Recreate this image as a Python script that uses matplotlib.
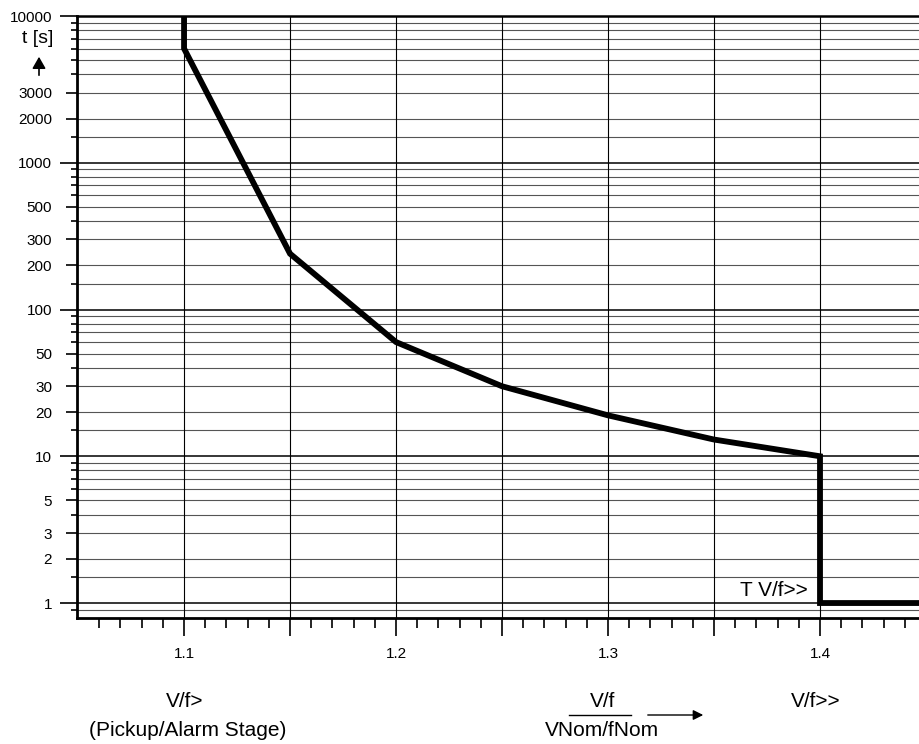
import matplotlib
matplotlib.use("Agg")
import matplotlib.pyplot as plt
from matplotlib.patches import FancyArrowPatch
from matplotlib.lines import Line2D

plt.rcParams['font.family'] = ['Liberation Sans', 'DejaVu Sans']

# ---- data ----
vf_ratio = [1.10, 1.10, 1.15, 1.20, 1.25, 1.30, 1.35, 1.40, 1.40, 1.45]
trip_time = [10000, 6000, 240, 60, 30, 19, 13, 10, 1, 1]

x_label_ticks = [1.1, 1.2, 1.3, 1.4]
x_major_ticks = [1.1, 1.15, 1.2, 1.25, 1.3, 1.35, 1.4]
x_minor_ticks = [1.06, 1.07, 1.08, 1.09, 1.11, 1.12, 1.13, 1.14, 1.16, 1.17, 1.18, 1.19,
                 1.21, 1.22, 1.23, 1.24, 1.26, 1.27, 1.28, 1.29, 1.31, 1.32, 1.33, 1.34,
                 1.36, 1.37, 1.38, 1.39, 1.41, 1.42, 1.43, 1.44]
y_labeled = [1, 2, 3, 5, 10, 20, 30, 50, 100, 200, 300, 500, 1000, 2000, 3000, 10000]
y_label_text = ['1', '2', '3', '5', '10', '20', '30', '50', '100', '200', '300', '500',
                '1000', '2000', '3000', '10000']
y_decades = [1, 10, 100, 1000, 10000]
y_unlabeled = [0.9, 1.5, 4, 6, 7, 8, 9, 15, 40, 60, 70, 80, 90, 150, 400, 600, 700, 800, 900,
               1500, 4000, 5000, 6000, 7000, 8000, 9000]

W, H = 919, 744
fig = plt.figure(figsize=(W / 100, H / 100), dpi=100)
ax = fig.add_axes([77 / W, 1 - 617.7 / H, 1 - 77 / W, (617.7 - 16) / H])

ax.set_yscale('log')
ax.set_xlim(1.0495, 1.4467)
ax.set_ylim(10 ** -0.1, 10000)

# grid lines
for v in sorted(y_labeled + y_unlabeled):
    if v in y_decades:
        ax.axhline(v, color='black', lw=1.1, zorder=1)
    else:
        ax.axhline(v, color='#555555', lw=0.8, zorder=1)
for v in x_major_ticks:
    ax.axvline(v, color='black', lw=0.8, zorder=1)

# curve
ax.plot(vf_ratio, trip_time, color='black', lw=4.2, solid_joinstyle='miter',
        solid_capstyle='butt', zorder=3, clip_on=True)

# spines
for s in ['left', 'bottom']:
    ax.spines[s].set_linewidth(2.0)
ax.spines['top'].set_linewidth(1.8)
ax.spines['right'].set_visible(False)

# y ticks
ax.yaxis.set_major_locator(matplotlib.ticker.FixedLocator(y_labeled))
ax.yaxis.set_major_formatter(matplotlib.ticker.FixedFormatter(y_label_text))
ax.yaxis.set_minor_locator(matplotlib.ticker.FixedLocator(y_unlabeled))
ax.yaxis.set_minor_formatter(matplotlib.ticker.NullFormatter())
ax.tick_params(axis='y', which='major', length=8, width=1.2, pad=10, labelsize=11)
ax.tick_params(axis='y', which='minor', length=4, width=1.2)
for tk, v in zip(ax.yaxis.get_major_ticks(), y_labeled):
    if v in y_decades:
        tk.tick1line.set_markersize(12.5)

# x ticks
ax.xaxis.set_major_locator(matplotlib.ticker.FixedLocator(x_major_ticks))
ax.xaxis.set_major_formatter(matplotlib.ticker.FixedFormatter(
    [('%.1f' % v) if v in x_label_ticks else '' for v in x_major_ticks]))
ax.xaxis.set_minor_locator(matplotlib.ticker.FixedLocator(x_minor_ticks))
ax.tick_params(axis='x', which='major', length=13, width=1.2, pad=8, labelsize=11)
ax.tick_params(axis='x', which='minor', length=7, width=1.2)


def fx(px):
    return px / W


def fy(py):
    return 1 - py / H


# label inside plot
fig.text(fx(808), fy(596.5), 'T V/f>>', ha='right', va='baseline', fontsize=15)

# y-axis title
fig.text(fx(53), fy(43), 't [s]', ha='right', va='baseline', fontsize=14)
fig.add_artist(FancyArrowPatch((fx(39), fy(78)), (fx(39), fy(54)), transform=fig.transFigure,
                               arrowstyle='-|>,head_length=7,head_width=4', color='black',
                               lw=1.2, mutation_scale=1))

# bottom annotations
fig.text(fx(185), fy(707), 'V/f>', ha='center', va='baseline', fontsize=15)
fig.text(fx(187.5), fy(736), '(Pickup/Alarm Stage)', ha='center', va='baseline', fontsize=15)
fig.text(fx(602.5), fy(707), 'V/f', ha='center', va='baseline', fontsize=15)
fig.add_artist(Line2D([fx(569), fx(631)], [fy(715), fy(715)], transform=fig.transFigure,
                      color='black', lw=1.0))
fig.text(fx(601.5), fy(736), 'VNom/fNom', ha='center', va='baseline', fontsize=15)
fig.add_artist(FancyArrowPatch((fx(645), fy(715)), (fx(706), fy(715)), transform=fig.transFigure,
                               arrowstyle='-|>,head_length=6,head_width=3', color='black',
                               lw=1.0, mutation_scale=1))
fig.text(fx(816), fy(707), 'V/f>>', ha='center', va='baseline', fontsize=15)

fig.savefig('out.png', dpi=100)
